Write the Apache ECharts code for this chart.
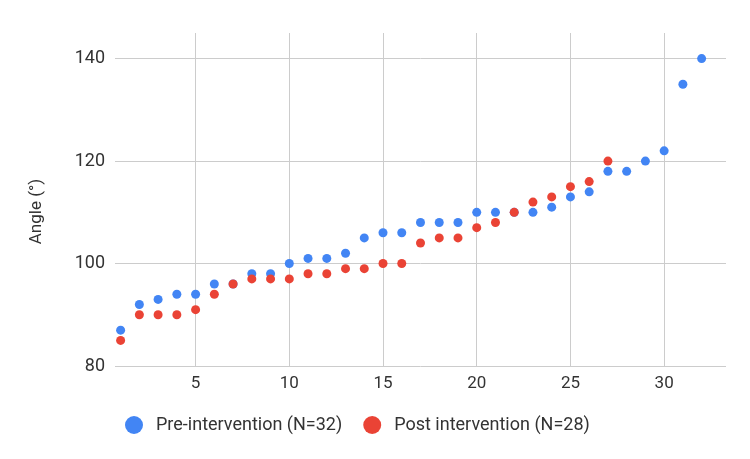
<!DOCTYPE html>
<html>
<head>
<meta charset="utf-8">
<script src="https://cdn.jsdelivr.net/npm/echarts@6/dist/echarts.min.js"></script>
<style>html,body{margin:0;padding:0;background:#fff;}#c{width:750px;height:459px;}</style>
</head>
<body>
<div id="c"></div>
<script>
const preName = 'Pre-intervention (N=32)';
const postName = 'Post intervention (N=28)';
const preValues = [87, 92, 93, 94, 94, 96, 96, 98, 98, 100, 101, 101, 102, 105, 106, 106, 108, 108, 108, 110, 110, 110, 110, 111, 113, 114, 118, 118, 120, 122, 135, 140];
const postValues = [85, 90, 90, 90, 91, 94, 96, 97, 97, 97, 98, 98, 99, 99, 100, 100, 104, 105, 105, 107, 108, 110, 112, 113, 115, 116, 120];
const xTicks = [5, 10, 15, 20, 25, 30];
const yTicks = [80, 100, 120, 140];
const yTitle = 'Angle (°)';

const toPoints = arr => arr.map((v, i) => [i + 1, v]);
const font = 'Roboto, Arial, sans-serif';
const chart = echarts.init(document.getElementById('c'), null, {renderer: 'canvas'});
chart.setOption({
  animation: false,
  backgroundColor: '#fff',
  grid: {left: 115, right: 24, top: 33, bottom: 93},
  xAxis: {
    type: 'value', min: 0.7, max: 33.3,
    axisLine: {show: false},
    axisTick: {show: false, customValues: xTicks},
    axisLabel: {customValues: xTicks, color: '#333', fontSize: 17, fontFamily: font, margin: 9},
    splitLine: {show: true, lineStyle: {color: '#ccc', width: 1}}
  },
  yAxis: {
    type: 'value', min: 80, max: 145,
    name: yTitle, nameLocation: 'middle', nameGap: 70,
    nameTextStyle: {color: '#333', fontSize: 17, fontFamily: font, padding: [0, 24, 0, 0]},
    axisLine: {show: false},
    axisTick: {show: false, customValues: yTicks},
    axisLabel: {customValues: yTicks, color: '#333', fontSize: 18, fontFamily: font, margin: 10},
    splitLine: {show: true, lineStyle: {color: '#ccc', width: 1}}
  },
  legend: {
    left: 120, top: 411,
    itemWidth: 18, itemHeight: 18, itemGap: 21,
    icon: 'circle',
    textStyle: {color: '#333', fontSize: 18, fontFamily: font, padding: [0, 0, 0, 8]},
    data: [preName, postName]
  },
  series: [
    {name: preName, type: 'scatter', data: toPoints(preValues), symbolSize: 9, itemStyle: {color: '#4285F4', opacity: 1}},
    {name: postName, type: 'scatter', data: toPoints(postValues), symbolSize: 9, itemStyle: {color: '#EA4335', opacity: 1}}
  ]
});
</script>
</body>
</html>
